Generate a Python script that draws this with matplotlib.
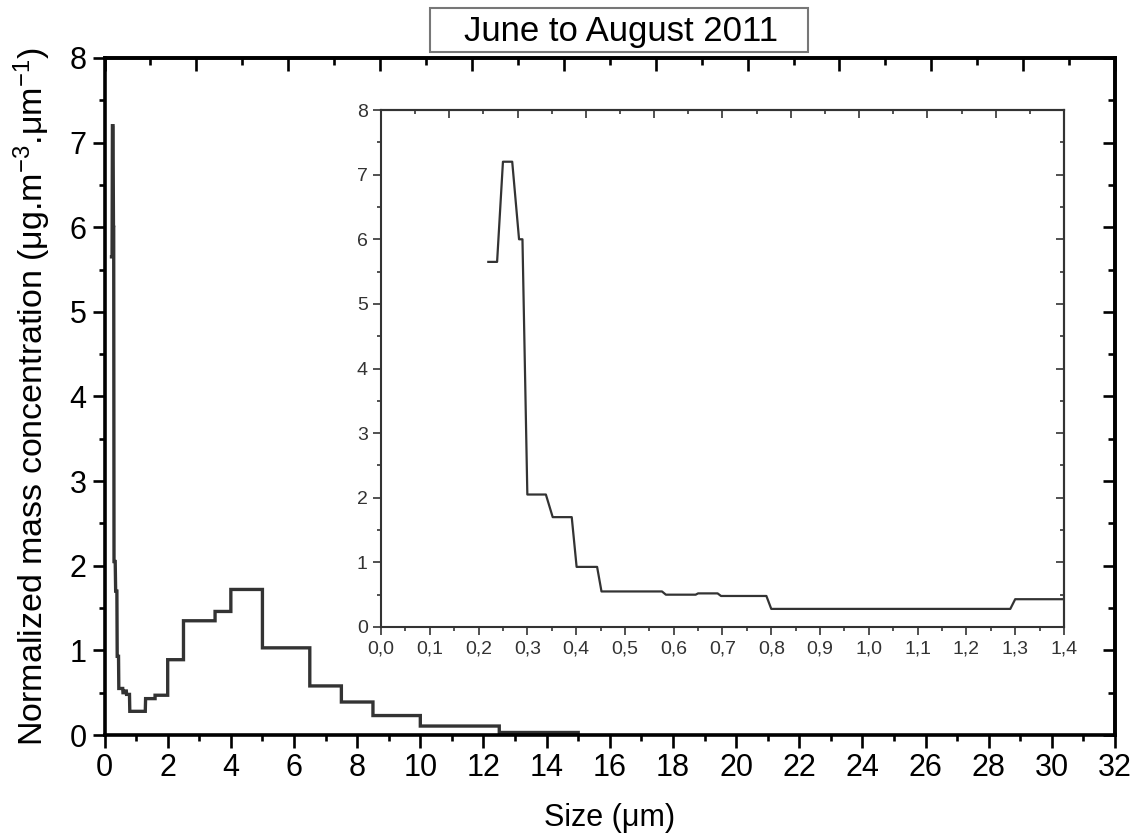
import numpy as np
import matplotlib
matplotlib.use("Agg")
import matplotlib.pyplot as plt
from matplotlib.ticker import MultipleLocator, FuncFormatter
from matplotlib.patches import Rectangle

# Fine-resolved part of the size distribution (shown in the inset), size in um
fine_size = [0.22, 0.238, 0.25, 0.269, 0.283, 0.29, 0.30, 0.338, 0.352, 0.391,
             0.401, 0.443, 0.452, 0.576, 0.584, 0.645, 0.650, 0.690, 0.697,
             0.79, 0.80, 1.29, 1.30]
fine_conc = [5.65, 5.65, 7.2, 7.2, 6.0, 6.0, 2.05, 2.05, 1.7, 1.7,
             0.93, 0.93, 0.55, 0.55, 0.5, 0.5, 0.52, 0.52, 0.48,
             0.48, 0.28, 0.28, 0.43]

# Coarse bins (step histogram in main panel)
coarse_edges = [1.30, 1.6, 2.0, 2.5, 3.5, 4.0, 5.0, 6.5, 7.5, 8.5, 10.0, 12.5, 15.0]
coarse_conc = [0.43, 0.47, 0.89, 1.35, 1.46, 1.72, 1.03, 0.58, 0.39, 0.23, 0.106, 0.03]

title = "June to August 2011"
xlabel = "Size (\u03bcm)"
ylabel = "Normalized mass concentration (\u03bcg.m$^{-3}$.\u03bcm$^{-1}$)"

plt.rcParams['font.family'] = ['Liberation Sans', 'DejaVu Sans']
plt.rcParams['mathtext.fontset'] = 'custom'
plt.rcParams['mathtext.rm'] = 'Liberation Sans'
plt.rcParams['mathtext.it'] = 'Liberation Sans'
plt.rcParams['mathtext.default'] = 'regular'

line_col = '#333333'

# build step line from coarse bins
edges = np.array(coarse_edges)
vals = np.array(coarse_conc)
step_x = np.repeat(edges, 2)[1:-1]
step_y = np.repeat(vals, 2)
main_x = np.concatenate([fine_size, step_x])
main_y = np.concatenate([fine_conc, step_y])

fig = plt.figure(figsize=(11.4, 8.38), dpi=100)
ax = fig.add_axes([0.0917, 0.1229, 0.8864, 0.8079])
ax.plot(main_x, main_y, color=line_col, lw=2.4, solid_joinstyle='miter')
ax.set_xlim(0, 32)
ax.set_ylim(0, 8)
ax.xaxis.set_major_locator(MultipleLocator(2))
ax.xaxis.set_minor_locator(MultipleLocator(1))
ax.yaxis.set_major_locator(MultipleLocator(1))
ax.yaxis.set_minor_locator(MultipleLocator(0.5))
ax.tick_params(which='major', direction='out', length=9, width=1.9, labelsize=22, pad=4)
ax.tick_params(which='minor', direction='out', length=4.5, width=1.9)
for s in ax.spines.values():
    s.set_linewidth(2.6)
ax.set_xlabel(xlabel, fontsize=22, labelpad=14)
ax.set_ylabel(ylabel, fontsize=24.5, labelpad=12)

# mirrored axes: inward ticks, top one with its own spacing
top = ax.secondary_xaxis('top', functions=(lambda v: v * 11 / 32, lambda v: v * 32 / 11))
top.xaxis.set_major_locator(MultipleLocator(1))
top.xaxis.set_minor_locator(MultipleLocator(0.5))
top.tick_params(which='major', direction='in', length=9, width=1.9, labeltop=False)
top.tick_params(which='minor', direction='in', length=5, width=1.9)
top.spines['top'].set_linewidth(2.6)
right = ax.secondary_yaxis('right')
right.yaxis.set_major_locator(MultipleLocator(1))
right.yaxis.set_minor_locator(MultipleLocator(0.5))
right.tick_params(which='major', direction='in', length=9, width=1.9, labelright=False)
right.tick_params(which='minor', direction='in', length=5, width=1.9)
right.spines['right'].set_linewidth(2.6)

# inset
ins = fig.add_axes([0.3342, 0.2518, 0.5991, 0.6169])
ins.plot(fine_size + [coarse_edges[1]], fine_conc + [coarse_conc[0]], color=line_col, lw=1.6)
ins.set_xlim(0, 1.4)
ins.set_ylim(0, 8)
ins.xaxis.set_major_locator(MultipleLocator(0.1))
ins.xaxis.set_minor_locator(MultipleLocator(0.05))
ins.yaxis.set_major_locator(MultipleLocator(1))
ins.yaxis.set_minor_locator(MultipleLocator(0.5))
ins.xaxis.set_major_formatter(FuncFormatter(lambda v, p: f"{v:.1f}".replace('.', ',')))
ins.tick_params(which='major', direction='out', length=6, width=1.2, labelsize=14, colors='#333333')
ins.tick_params(which='minor', direction='out', length=3, width=1.2, colors='#333333')
for s in ins.spines.values():
    s.set_linewidth(1.5)
    s.set_color('#333333')
itop = ins.secondary_xaxis('top', functions=(lambda v: v * 10 / 1.4, lambda v: v * 1.4 / 10))
itop.xaxis.set_major_locator(MultipleLocator(1))
itop.xaxis.set_minor_locator(MultipleLocator(0.5))
itop.tick_params(which='major', direction='in', length=6, width=1.2, labeltop=False, colors='#333333')
itop.tick_params(which='minor', direction='in', length=3, width=1.2, colors='#333333')
itop.spines['top'].set_linewidth(1.5)
itop.spines['top'].set_color('#333333')
iright = ins.secondary_yaxis('right')
iright.yaxis.set_major_locator(MultipleLocator(1))
iright.yaxis.set_minor_locator(MultipleLocator(0.5))
iright.tick_params(which='major', direction='in', length=6, width=1.2, labelright=False, colors='#333333')
iright.tick_params(which='minor', direction='in', length=3, width=1.2, colors='#333333')
iright.spines['right'].set_linewidth(1.5)
iright.spines['right'].set_color('#333333')

# title in a box
fig.patches.append(Rectangle((430 / 1140, 1 - 52 / 838), 378 / 1140, 44 / 838,
                             transform=fig.transFigure, fill=False,
                             edgecolor='#777777', lw=1.5))
fig.text(621 / 1140, 1 - 31 / 838, title, ha='center', va='center', fontsize=25,
         family=['Liberation Sans Narrow', 'Liberation Sans'])

fig.savefig('out.png', dpi=100)
